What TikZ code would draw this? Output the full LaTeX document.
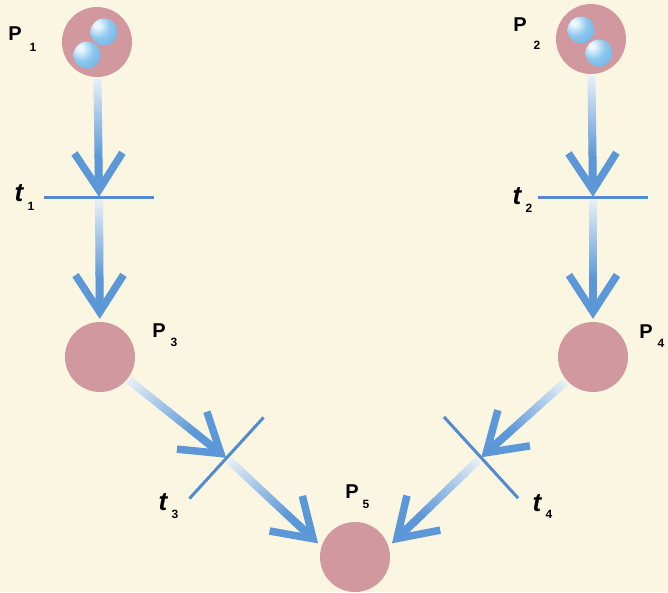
\documentclass[tikz,border=0pt]{standalone}
\usepackage{fontspec}
\setmainfont{Liberation Sans}
\usetikzlibrary{calc}
\definecolor{bgcream}{RGB}{250,246,225}
\definecolor{placepink}{RGB}{210,152,160}
\definecolor{arrowblue}{RGB}{92,152,216}
\definecolor{arrowlight}{RGB}{238,244,248}
\definecolor{barblue}{RGB}{82,140,206}
\definecolor{tokhi}{RGB}{235,246,252}
\definecolor{tokmid}{RGB}{140,200,238}
\definecolor{tokdark}{RGB}{92,162,220}
\definecolor{tokrim}{RGB}{140,195,232}

\pgfdeclareradialshading{tokshade}{\pgfpoint{-14bp}{14bp}}{%
  color(0bp)=(tokhi); color(5bp)=(tokhi); color(22bp)=(tokmid);
  color(56bp)=(tokdark); color(66bp)=(tokrim); color(100bp)=(tokrim)}

\newcommand\garrow[2]{%
  \path (#1) coordinate (ga-s) (#2) coordinate (ga-e);
  \pgfpointdiff{\pgfpointanchor{ga-s}{center}}{\pgfpointanchor{ga-e}{center}}%
  \pgfgetlastxy{\gax}{\gay}%
  \pgfmathsetmacro\galen{veclen(\gax,\gay)}%
  \pgfmathsetmacro\gaang{atan2(\gay,\gax)}%
  \pgfmathsetmacro\gaseg{(\galen-8)/40}%
  \begin{scope}[shift={(ga-s)}, rotate=\gaang]
    \foreach \i in {0,...,39}{%
      \pgfmathsetmacro\gapp{min(100,6+94*\i/28)}%
      \fill[arrowblue!\gapp!arrowlight] (\i*\gaseg pt,-4pt) rectangle ({(\i+1)*\gaseg pt+0.6pt},4pt);
    }
    \draw[arrowblue, line width=7.5pt, line join=miter]
      (\galen pt-44pt,24pt) -- (\galen pt-7pt,0pt) -- (\galen pt-44pt,-24pt);
  \end{scope}}

\tikzset{
  place/.style={circle, fill=placepink, minimum size=70pt, inner sep=0pt, outer sep=0pt},
  token/.style={circle, minimum size=27pt, inner sep=0pt, shading=tokshade},
  tbar/.style={rectangle, fill=barblue, minimum height=3pt, minimum width=110pt, inner sep=0pt, outer sep=0pt},
  plabel/.style={font=\bfseries\fontsize{20}{20}\selectfont, inner sep=0pt},
  sublabel/.style={font=\bfseries\fontsize{12}{12}\selectfont, inner sep=0pt},
  tlabel/.style={font=\bfseries\itshape\fontsize{26}{26}\selectfont, inner sep=0pt}
}

\begin{document}
\begin{tikzpicture}[x=1pt,y=-1pt]
\fill[bgcream] (0,0) rectangle (668,592);
\useasboundingbox (0,0) rectangle (668,592);

% places
\node[place] (p1) at (97,42) {};
\node[place] (p2) at (591,39) {};
\node[place] (p3) at (100,357) {};
\node[place] (p4) at (593,357) {};
\node[place] (p5) at (355,557) {};

% tokens
\node[token] (k1) at ($(p1)+(7,-10)$) {};
\node[token] (k2) at ($(p1)+(-10,13)$) {};
\node[token] (k3) at ($(p2)+(-10,-9)$) {};
\node[token] (k4) at ($(p2)+(8,14)$) {};

% transitions
\node[tbar] (t1) at (99,197) {};
\node[tbar] (t2) at (593,197) {};
\node[tbar, rotate=47.6] (t3) at (226.5,458) {};
\node[tbar, rotate=-47.6] (t4) at (481,457.5) {};

\coordinate (p5w) at ($(p5)+(160:39pt)$);
\coordinate (p5e) at ($(p5)+(20:39pt)$);

% arcs
\garrow{$(p1)!37pt!(t1)$}{t1}
\garrow{$(t1)!3pt!(p3)$}{$(p3)!38pt!(t1)$}
\garrow{$(p2)!37pt!(t2)$}{t2}
\garrow{$(t2)!3pt!(p4)$}{$(p4)!38pt!(t2)$}
\garrow{$(p3)!37pt!(t3)$}{t3}
\garrow{$(t3)!3pt!(p5w)$}{p5w}
\garrow{$(p4)!37pt!(t4)$}{t4}
\garrow{$(t4)!3pt!(p5e)$}{p5e}

% labels
\node[plabel] (lp1) at (15,34) {P};
\node[sublabel] (lp1s) at (33,47) {1};
\node[plabel] (lp2) at (520,25) {P};
\node[sublabel] (lp2s) at (537,45) {2};
\node[plabel] (lp3) at (159,331) {P};
\node[sublabel] (lp3s) at (174,342) {3};
\node[plabel] (lp4) at (646,332) {P};
\node[sublabel] (lp4s) at (661,343) {4};
\node[plabel] (lp5) at (352,492) {P};
\node[sublabel] (lp5s) at (366,504) {5};

\node[tlabel] (lt1) at (19,193) {t};
\node[sublabel] (lt1s) at (31,206) {1};
\node[tlabel] (lt2) at (517,196) {t};
\node[sublabel] (lt2s) at (529,208) {2};
\node[tlabel] (lt3) at (163,502) {t};
\node[sublabel] (lt3s) at (175,514) {3};
\node[tlabel] (lt4) at (537,503) {t};
\node[sublabel] (lt4s) at (549,514) {4};
\end{tikzpicture}
\end{document}
